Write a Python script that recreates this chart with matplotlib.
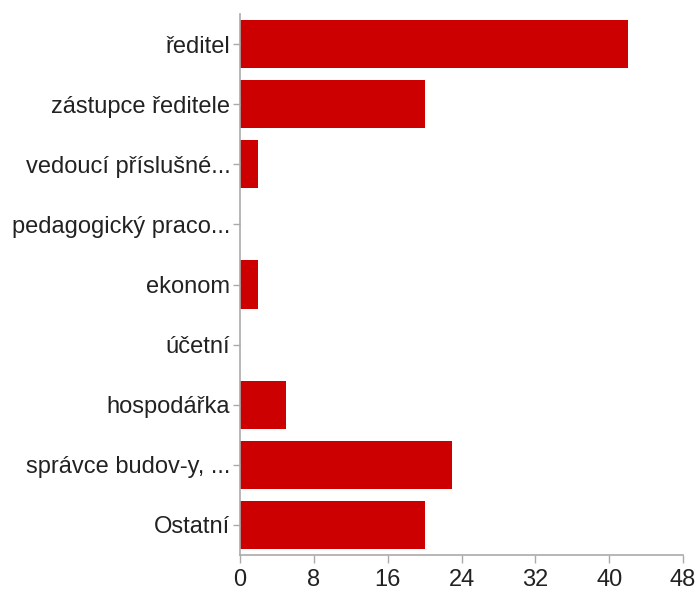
import matplotlib
matplotlib.use("Agg")
import matplotlib.pyplot as plt

categories = [
    "ředitel",
    "zástupce ředitele",
    "vedoucí příslušné...",
    "pedagogický praco...",
    "ekonom",
    "účetní",
    "hospodářka",
    "správce budov-y, ...",
    "Ostatní",
]
counts = [42, 20, 2, 0, 2, 0, 5, 23, 20]
x_ticks = [0, 8, 16, 24, 32, 40, 48]

plt.rcParams["font.family"] = ["Liberation Sans", "DejaVu Sans"]

fig = plt.figure(figsize=(6.97, 5.90), dpi=100)
ax = fig.add_axes([240 / 697, 1 - 555 / 590, (683 - 240) / 697, (555 - 14) / 590])

y = list(range(len(categories)))
ax.barh(y, counts, height=0.8, color="#cc0000", edgecolor="none")

ax.set_ylim(len(categories) - 0.5, -0.5)
ax.set_xlim(0, 48)
ax.set_xticks(x_ticks)
ax.set_xticklabels([str(v) for v in x_ticks])
ax.set_yticks(y)
ax.set_yticklabels(categories)

for side in ("top", "right"):
    ax.spines[side].set_visible(False)
for side in ("left", "bottom"):
    ax.spines[side].set_color("#aaaaaa")
    ax.spines[side].set_linewidth(1.2)

ax.tick_params(axis="y", length=5, width=1, color="#aaaaaa", pad=2,
               labelsize=17, labelcolor="#222222")
ax.tick_params(axis="x", length=6, width=1, color="#aaaaaa", pad=4,
               labelsize=17, labelcolor="#222222")

fig.savefig("out.png", dpi=100)
